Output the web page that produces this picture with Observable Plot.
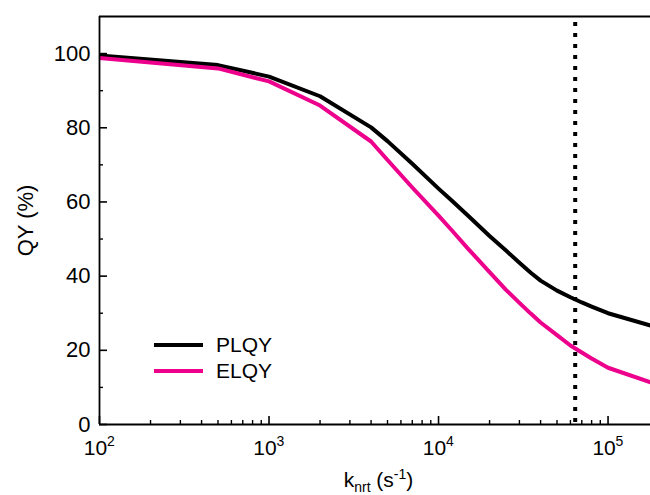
<!DOCTYPE html>
<html><head><meta charset="utf-8">
<script src="https://cdn.jsdelivr.net/npm/d3@7"></script>
<script src="https://cdn.jsdelivr.net/npm/@observablehq/plot@0.6"></script>
<style>
body{margin:0;background:#fff;}
#wrap{position:relative;width:650px;height:495px;font-family:"Liberation Sans",Arial,sans-serif;}
.leg{position:absolute;left:154px;height:24px;display:flex;align-items:center;font-size:21px;color:#000;}
.sw{width:49px;height:4px;margin-right:13px;}
</style></head><body><div id="wrap"></div>
<script>
// data
const knrt = [100, 500, 1000, 2000, 4000, 5000, 7000, 10000, 12000, 15000, 20000, 25000, 30000, 35000, 40000, 50000, 60000, 70000, 80000, 100000, 200000];
const plqy = [99.5, 96.9, 93.8, 88.5, 80.1, 76.4, 70.3, 63.6, 60.3, 56.2, 50.8, 46.9, 43.6, 40.9, 38.8, 36.1, 34.3, 32.9, 31.8, 30.0, 26.0];
const elqy = [98.8, 96.0, 92.5, 86.0, 76.3, 71.3, 63.9, 56.3, 52.3, 47.3, 41.1, 36.3, 32.8, 29.9, 27.5, 24.1, 21.3, 19.4, 17.8, 15.3, 10.6];
const seriesNames = ["PLQY", "ELQY"];
const seriesColors = ["#000000", "#ec008c"];
const markerK = [64000];
const xMajorTicks = [100, 1000, 10000, 100000];
const xExponents = ["2", "3", "4", "5"];
const xMinorTicks = [200, 300, 400, 500, 600, 700, 800, 900,
  2000, 3000, 4000, 5000, 6000, 7000, 8000, 9000,
  20000, 30000, 40000, 50000, 60000, 70000, 80000, 90000];
const yMajorTicks = [0, 20, 40, 60, 80, 100];
const yMinorTicks = [10, 30, 50, 70, 90];
const xDomain = [100, 178000];
const yDomain = [0, 110];

const rows = [];
seriesNames.forEach((name, s) => {
  const vals = s === 0 ? plqy : elqy;
  knrt.forEach((k, i) => rows.push({series: name, k, qy: vals[i]}));
});

const W = 650, H = 495, mL = 99, mR = 0, mT = 16, mB = 71;
const plotW = W - mL - mR, plotH = H - mT - mB;
const font = '"Liberation Sans", Arial, sans-serif';

const chart = Plot.plot({
  width: W, height: H,
  marginLeft: mL, marginRight: mR, marginTop: mT, marginBottom: mB,
  style: {fontFamily: font, fontSize: "21px", color: "#000", background: "#fff"},
  x: {type: "log", domain: xDomain, axis: null},
  y: {domain: yDomain, axis: null},
  color: {domain: seriesNames, range: seriesColors},
  marks: [
    Plot.line(rows, {x: "k", y: "qy", z: "series", stroke: "series", strokeWidth: 4, clip: true, strokeLinejoin: "round"}),
    Plot.ruleX(markerK, {stroke: "#000", strokeWidth: 4, strokeDasharray: "4,7", insetTop: 6}),
    // frame lines
    Plot.ruleY([yDomain[0], yDomain[1]], {stroke: "#000", strokeWidth: 1.8}),
    Plot.ruleX([xDomain[0]], {stroke: "#000", strokeWidth: 1.8}),
    // inward ticks
    Plot.tickX(xMajorTicks, {x: d => d, stroke: "#000", strokeWidth: 1.6, insetTop: plotH - 8}),
    Plot.tickX(xMinorTicks, {x: d => d, stroke: "#000", strokeWidth: 1.4, insetTop: plotH - 4}),
    Plot.tickY(yMajorTicks, {y: d => d, stroke: "#000", strokeWidth: 1.6, insetRight: plotW - 8}),
    Plot.tickY(yMinorTicks, {y: d => d, stroke: "#000", strokeWidth: 1.4, insetRight: plotW - 4}),
    // y tick labels
    Plot.axisY(yMajorTicks, {tickSize: 0, tickPadding: 9, fontSize: 22, label: null}),
    // x tick labels as 10^n
    Plot.text(xMajorTicks, {x: d => d, frameAnchor: "bottom", text: () => "10", fontSize: 21, textAnchor: "middle", lineAnchor: "bottom", dx: -4, dy: 30}),
    Plot.text(xMajorTicks, {x: d => d, frameAnchor: "bottom", text: (d, i) => xExponents[i], fontSize: 14, textAnchor: "start", lineAnchor: "bottom", dx: 7.5, dy: 21}),
    // y axis title
    Plot.text(["QY (%)"], {frameAnchor: "left", text: d => d, rotate: -90, fontSize: 22, textAnchor: "middle", lineAnchor: "middle", dx: -74})
  ]
});

const wrap = document.getElementById("wrap");
wrap.appendChild(chart);

// x axis title with subscript / superscript
const svg = d3.select(chart);
const t = svg.append("text")
  .attr("x", 378.5).attr("y", 487)
  .attr("text-anchor", "middle")
  .attr("font-family", font).attr("font-size", 21).attr("fill", "#000");
t.append("tspan").text("k");
t.append("tspan").attr("font-size", 14).attr("dy", 5).text("nrt");
t.append("tspan").attr("dy", -5).text(" (s");
t.append("tspan").attr("font-size", 14).attr("dy", -8).text("-1");
t.append("tspan").attr("dy", 8).text(")");

// legend
const legendTops = [332.5, 359];
seriesNames.forEach((name, i) => {
  const row = document.createElement("div");
  row.className = "leg";
  row.style.top = legendTops[i] + "px";
  const sw = document.createElement("div");
  sw.className = "sw";
  sw.style.background = seriesColors[i];
  const lab = document.createElement("span");
  lab.textContent = name;
  row.appendChild(sw);
  row.appendChild(lab);
  wrap.appendChild(row);
});
</script>
</body></html>
